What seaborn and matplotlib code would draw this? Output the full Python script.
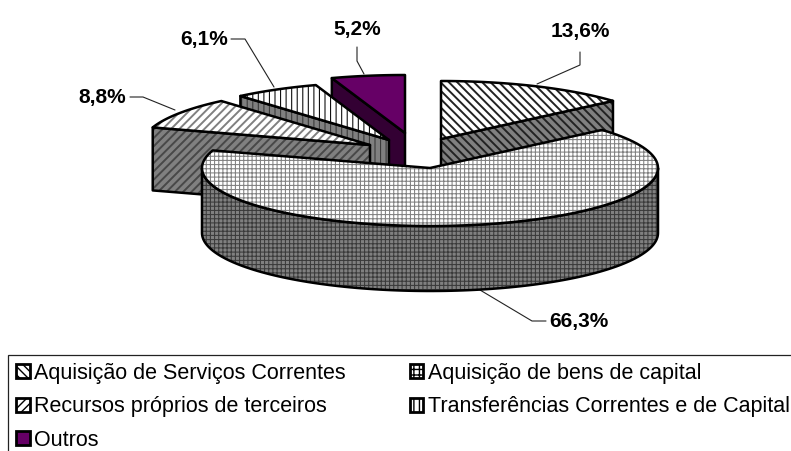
import numpy as np
import matplotlib
matplotlib.use("Agg")
import matplotlib.pyplot as plt
from matplotlib.patches import Polygon, Patch
import seaborn as sns

categories = ["Aquisição de Serviços Correntes", "Aquisição de bens de capital",
              "Recursos próprios de terceiros", "Transferências Correntes e de Capital", "Outros"]
values = [13.6, 66.3, 8.8, 6.1, 5.2]
labels = ["13,6%", "66,3%", "8,8%", "6,1%", "5,2%"]

# --- geometry / style (pixels of the 791x451 canvas) ---
RX, RY = 228, 58
depths = [65, 65, 63, 63, 63]
apex = [(441, 139), (430, 168), (370, 145), (389, 140), (405, 133)]
PURPLE, PURPLE_DK, GREY, DARK = "#660066", "#330033", "#808080", "#3a3a3a"
top_style = [
    dict(fc="white", hc="#222222", hatch="\\\\\\\\", hlw=1.4),
    dict(fc="white", hc="#808080", hatch="++++", hlw=0.75),
    dict(fc="white", hc="#808080", hatch="////", hlw=1.4),
    dict(fc="white", hc="#111111", hatch="|||", hlw=0.8),
    dict(fc=PURPLE, hc=PURPLE, hatch=None, hlw=0.8),
]
side_style = [
    dict(fc=GREY, hc="#222222", hatch="\\\\\\\\", hlw=1.4),
    dict(fc=GREY, hc=DARK, hatch="++++", hlw=0.75),
    dict(fc=GREY, hc="#484848", hatch="////", hlw=1.4),
    dict(fc=GREY, hc=DARK, hatch="|||", hlw=0.8),
    dict(fc=PURPLE_DK, hc=PURPLE_DK, hatch=None, hlw=0.8),
]
leaders = [
    [(537, 84), (580, 65), (580, 52)],
    [(480, 290), (532, 321), (546, 321)],
    [(175, 110), (143, 97), (130, 97)],
    [(274, 87), (245, 39), (231, 39)],
    [(364, 74), (357, 61), (357, 47)],
]
label_pos = [(580, 32), (579, 322), (102, 97), (204, 40), (357, 29)]

sns.set_theme(style="white")
plt.rcParams["font.family"] = ["Liberation Sans", "DejaVu Sans"]
plt.rcParams["text.color"] = "black"
plt.rcParams["hatch.linewidth"] = 0.8

fig = plt.figure(figsize=(7.91, 4.51), dpi=100)
ax = fig.add_axes([0, 0, 1, 1])
ax.set_xlim(0, 791)
ax.set_ylim(451, 0)
ax.axis("off")
LW = 1.8


def pt(c, deg):
    a = np.radians(deg)
    return np.column_stack([c[0] + RX * np.sin(a), c[1] - RY * np.cos(a)])


def draw(xy, st, z):
    plt.rcParams["hatch.linewidth"] = st["hlw"]
    ax.add_patch(Polygon(xy, closed=True, facecolor=st["fc"], edgecolor=st["hc"],
                         hatch=st["hatch"], lw=0, zorder=z))
    ax.add_patch(Polygon(xy, closed=True, facecolor="none", edgecolor="black",
                         lw=LW, joinstyle="round", zorder=z + 0.1))


edges = np.concatenate([[0], np.cumsum(values)]) / sum(values) * 360
order = [4, 3, 2, 0, 1]  # back to front
for k, i in enumerate(order):
    a0, a1 = edges[i], edges[i + 1]
    c = np.array(apex[i], float)
    low = np.array([0, depths[i]])
    if i == 1:  # large slice: outer wall along the front of the ellipse
        arc = pt(c, np.linspace(90, 270, 120))
        side = np.vstack([arc, (arc + low)[::-1]])
    elif i == 0:  # radial wall at the slice's closing edge
        e = pt(c, [a1])[0]
        side = np.array([c, e, e + low, c + low])
    else:  # radial wall at the slice's opening edge
        s = pt(c, [a0])[0]
        side = np.array([c, s, s + low, c + low])
    draw(side, side_style[i], 2 + 2 * k)
    arc = pt(c, np.linspace(a0, a1, 120))
    draw(np.vstack([c, arc]), top_style[i], 3 + 2 * k)

for path, txt, (tx, ty) in zip(leaders, labels, label_pos):
    p = np.array(path)
    ax.plot(p[:, 0], p[:, 1], color="#222222", lw=0.8, zorder=1, solid_joinstyle="miter")
    ax.text(tx, ty, txt, ha="center", va="center", fontsize=15, fontweight="bold",
            color="black", zorder=30)

# legend, filled column by column like the original
plt.rcParams["hatch.linewidth"] = 1.0
handle_hatch = ["\\\\\\\\", "+++", "////", "|||", None]
handle_face = ["white", "white", "white", "white", PURPLE]
handles = [Patch(facecolor=handle_face[i], edgecolor="black", hatch=handle_hatch[i],
                 lw=2.0, label=categories[i]) for i in [0, 2, 4, 1, 3]]
leg = ax.legend(handles=handles, loc="upper left", bbox_to_anchor=(8 / 791, 1 - 355 / 451),
                bbox_transform=ax.transAxes, ncol=2, frameon=True, fancybox=False,
                edgecolor="#222222", framealpha=1, fontsize=15.5, handlelength=0.64,
                handleheight=0.62, handletextpad=0.2, labelspacing=0.58, borderpad=0.36,
                borderaxespad=0, columnspacing=2.98, labelcolor="black")
leg.get_frame().set_linewidth(0.9)

fig.savefig("out.png", dpi=100)
